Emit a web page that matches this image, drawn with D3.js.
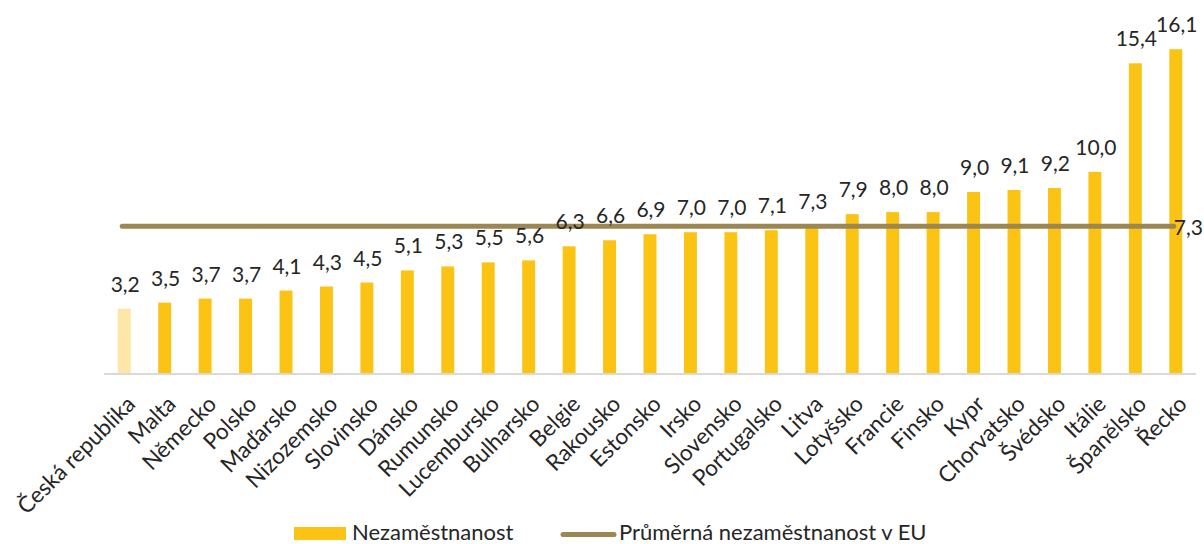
<!DOCTYPE html>
<html>
  <head>
    <meta charset="utf-8">
    <title>Nezaměstnanost v EU</title>
    <script src="https://cdn.jsdelivr.net/npm/d3@7"></script>
    <style>
      body { margin: 0; background: #fff; }
      text { font-family: Lato, "Open Sans", sans-serif; fill: #262626; }
    </style>
  </head>
  <body>
    <script>
     // data
     let countries = ["Česká republika", "Malta", "Německo", "Polsko", "Maďarsko", "Nizozemsko",
                      "Slovinsko", "Dánsko", "Rumunsko", "Lucembursko", "Bulharsko", "Belgie",
                      "Rakousko", "Estonsko", "Irsko", "Slovensko", "Portugalsko", "Litva",
                      "Lotyšsko", "Francie", "Finsko", "Kypr", "Chorvatsko", "Švédsko",
                      "Itálie", "Španělsko", "Řecko"];
     let unemployment = [3.2, 3.5, 3.7, 3.7, 4.1, 4.3, 4.5, 5.1, 5.3, 5.5, 5.6, 6.3, 6.6, 6.9,
                         7.0, 7.0, 7.1, 7.3, 7.9, 8.0, 8.0, 9.0, 9.1, 9.2, 10.0, 15.4, 16.1];
     let euAverage = 7.3;
     let legendLabels = ["Nezaměstnanost", "Průměrná nezaměstnanost v EU"];

     let w = 1204, h = 544;
     let fmt = (v) => d3.format(".1f")(v).replace(".", ",");

     let svg = d3.select("body").append("svg")
       .attr("width", w)
       .attr("height", h)
       .style("display", "block");

     let data = countries.map((c, i) => ({country: c, value: unemployment[i]}));

     // scales
     let xScale = d3.scaleBand()
       .domain(countries)
       .range([104, 1196])
       .paddingInner(0.68)
       .paddingOuter(0.34);
     let yScale = d3.scaleLinear()
       .domain([0, 18])
       .range([373, 11]);

     // bars
     svg.selectAll("rect.bar")
       .data(data)
       .enter()
       .append("rect")
       .attr("class", "bar")
       .attr("x", (d) => xScale(d.country))
       .attr("y", (d) => yScale(d.value))
       .attr("width", xScale.bandwidth())
       .attr("height", (d) => yScale(0) - yScale(d.value))
       .attr("fill", (d, i) => i === 0 ? "#fde6a8" : "#fbc314");

     // x axis line
     svg.append("line")
       .attr("x1", xScale.range()[0])
       .attr("x2", xScale.range()[1])
       .attr("y1", yScale(0) + 1)
       .attr("y2", yScale(0) + 1)
       .attr("stroke", "#d9d9d9")
       .attr("stroke-width", 2);

     // EU average line (under the labels)
     let first = xScale(countries[0]) + xScale.bandwidth() / 2;
     let last = xScale(countries[countries.length - 1]) + xScale.bandwidth() / 2;
     svg.append("line")
       .attr("x1", first - 2)
       .attr("x2", last - 2)
       .attr("y1", yScale(euAverage))
       .attr("y2", yScale(euAverage))
       .attr("stroke", "#9c8652")
       .attr("stroke-width", 5)
       .attr("stroke-linecap", "round");

     // value labels
     svg.selectAll("text.value")
       .data(data)
       .enter()
       .append("text")
       .attr("class", "value")
       .attr("x", (d) => xScale(d.country) + xScale.bandwidth() / 2 + 1)
       .attr("y", (d) => yScale(d.value) - 17)
       .attr("text-anchor", "middle")
       .style("font-size", "21px")
       .text((d) => fmt(d.value));

     svg.append("text")
       .attr("x", last - 2)
       .attr("y", yScale(euAverage) + 9)
       .style("font-size", "21px")
       .text(fmt(euAverage));

     // category labels
     svg.selectAll("text.cat")
       .data(data)
       .enter()
       .append("text")
       .attr("class", "cat")
       .attr("transform", (d) => "translate(" + (xScale(d.country) + xScale.bandwidth() / 2 + 7) + "," + (yScale(0) + 27) + ") rotate(-45)")
       .attr("text-anchor", "end")
       .attr("dy", "0.35em")
       .style("font-size", "22.5px")
       .text((d) => d.country);

     // legend
     let legend = svg.append("g");
     legend.append("rect")
       .attr("x", 294).attr("y", 527)
       .attr("width", 52).attr("height", 13)
       .attr("fill", "#fbc314");
     legend.append("text")
       .attr("x", 352).attr("y", 539.5)
       .style("font-size", "22px")
       .text(legendLabels[0]);
     legend.append("line")
       .attr("x1", 563).attr("x2", 614)
       .attr("y1", 534.5).attr("y2", 534.5)
       .attr("stroke", "#9c8652")
       .attr("stroke-width", 5)
       .attr("stroke-linecap", "round");
     legend.append("text")
       .attr("x", 619).attr("y", 539.5)
       .style("font-size", "22px")
       .text(legendLabels[1]);
    </script>
  </body>
</html>
